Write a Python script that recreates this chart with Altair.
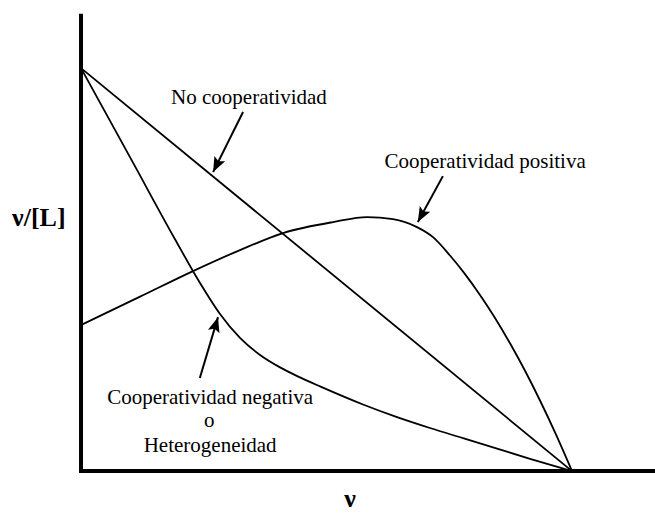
import math
import altair as alt
import pandas as pd

# Scatchard plot: nu/[L] against nu for three binding behaviours
# (nu normalised to the saturation value, nu/[L] to its intercept without cooperativity)

# No cooperativity: straight line
nu_none = [0.0, 1.0]
ratio_none = [1.0, 0.0]

# Positive cooperativity: rises to a maximum, then falls to saturation
nu_pos = [0.0, 0.1202, 0.2281, 0.3238, 0.4114, 0.5132, 0.5825, 0.6354, 0.6843,
          0.7169, 0.7515, 0.7821, 0.8126, 0.8432, 0.8737, 0.9043, 0.9348, 0.9654, 1.0]
ratio_pos = [0.3623, 0.4328, 0.4963, 0.5484, 0.5906, 0.6179, 0.6303, 0.6253, 0.6055,
             0.5806, 0.5350, 0.4888, 0.4370, 0.3799, 0.3171, 0.2489, 0.1752, 0.0960, 0.0]

# Negative cooperativity or heterogeneity: concave-up curve
nu_neg = [0.0, 0.1059, 0.1914, 0.2424, 0.2831, 0.3238, 0.3646, 0.4053, 0.4460,
          0.4868, 0.5743, 0.6436, 0.7108, 0.7780, 0.8473, 0.9145, 1.0]
ratio_neg = [1.0, 0.7653, 0.5754, 0.4667, 0.3898, 0.3303, 0.2881, 0.2573, 0.2325,
             0.2102, 0.1653, 0.1340, 0.1069, 0.0816, 0.0556, 0.0305, 0.0]

W, H = 655, 513
XDOM = [-0.165, 1.169]
YDOM = [-0.104, 1.169]
SX = W / (XDOM[1] - XDOM[0])
SY = H / (YDOM[1] - YDOM[0])

rows = []
for name, xs, ys in [("none", nu_none, ratio_none),
                     ("pos", nu_pos, ratio_pos),
                     ("neg", nu_neg, ratio_neg)]:
    for i, (a, b) in enumerate(zip(xs, ys)):
        rows.append({"serie": name, "nu": a, "ratio": b, "i": i})
curves = pd.DataFrame(rows)

xs = alt.Scale(domain=XDOM, nice=False, zero=False)
ys = alt.Scale(domain=YDOM, nice=False, zero=False)

# Thick axis lines
axes_df = pd.DataFrame([
    {"x": 0.0, "y": 0.0, "x2": 0.0, "y2": 1.13},
    {"x": 0.0, "y": 0.0, "x2": XDOM[1], "y2": 0.0},
])
axes = alt.Chart(axes_df).mark_rule(color="black", strokeWidth=4, strokeCap="square").encode(
    x=alt.X("x:Q", scale=xs, axis=None),
    y=alt.Y("y:Q", scale=ys, axis=None),
    x2="x2:Q", y2="y2:Q",
)

lines = alt.Chart(curves).mark_line(
    color="black", strokeWidth=1.8, interpolate="monotone"
).encode(
    x=alt.X("nu:Q", scale=xs, axis=None),
    y=alt.Y("ratio:Q", scale=ys, axis=None),
    detail="serie:N",
    order="i:Q",
)

# Annotation arrows (tail -> tip)
arrow_tail_x = [0.330, 0.737, 0.242]
arrow_tail_y = [0.891, 0.732, 0.231]
arrow_tip_x = [0.269, 0.686, 0.279]
arrow_tip_y = [0.742, 0.618, 0.382]

arr = []
for tx, ty, px, py in zip(arrow_tail_x, arrow_tail_y, arrow_tip_x, arrow_tip_y):
    dx = (px - tx) * SX
    dy = -(py - ty) * SY
    ang = math.degrees(math.atan2(dx, -dy)) % 360
    arr.append({"tx": tx, "ty": ty, "px": px, "py": py, "ang": ang})
arrows = pd.DataFrame(arr)

shafts = alt.Chart(arrows).mark_rule(color="black", strokeWidth=2).encode(
    x=alt.X("tx:Q", scale=xs, axis=None),
    y=alt.Y("ty:Q", scale=ys, axis=None),
    x2="px:Q", y2="py:Q",
)

HEAD = "M0,0 L1.2,3 L0,2.4 L-1.2,3 Z"
heads = alt.Chart(arrows).mark_point(
    shape=HEAD, filled=True, color="black", size=100, opacity=1, strokeWidth=0
).encode(
    x=alt.X("px:Q", scale=xs, axis=None),
    y=alt.Y("py:Q", scale=ys, axis=None),
    angle=alt.Angle("ang:Q", scale=None),
)

labels_df = pd.DataFrame([
    {"x": 0.342, "y": 0.911, "t": "No cooperatividad"},
    {"x": 0.823, "y": 0.752, "t": "Cooperatividad positiva"},
    {"x": 0.263, "y": 0.166, "t": "Cooperatividad negativa"},
    {"x": 0.261, "y": 0.109, "t": "o"},
    {"x": 0.263, "y": 0.047, "t": "Heterogeneidad"},
])
labels = alt.Chart(labels_df).mark_text(
    font="Liberation Serif", fontSize=21, align="center", baseline="alphabetic", color="black"
).encode(
    x=alt.X("x:Q", scale=xs, axis=None),
    y=alt.Y("y:Q", scale=ys, axis=None),
    text="t:N",
)

titles_df = pd.DataFrame([
    {"x": -0.086, "y": 0.608, "t": "ν/[L]"},
    {"x": 0.548, "y": -0.089, "t": "ν"},
])
titles = alt.Chart(titles_df).mark_text(
    font="Liberation Serif", fontSize=26, fontWeight="bold", align="center",
    baseline="alphabetic", color="black"
).encode(
    x=alt.X("x:Q", scale=xs, axis=None),
    y=alt.Y("y:Q", scale=ys, axis=None),
    text="t:N",
)

chart = alt.layer(axes, lines, shafts, heads, labels, titles).properties(
    width=W, height=H, padding=0, autosize=alt.AutoSizeParams(type="none"),
    background="white",
).configure_view(stroke=None)

chart.save("out.html", embed_options={"renderer": "svg", "actions": False})
